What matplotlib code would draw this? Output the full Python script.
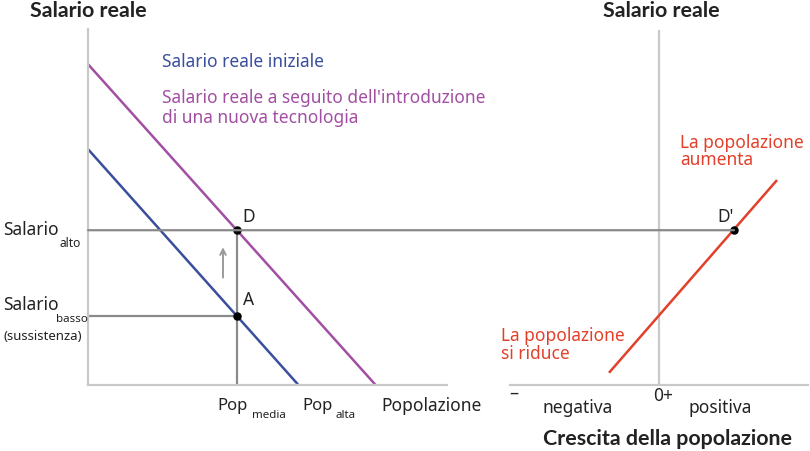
import matplotlib
matplotlib.use("Agg")
import matplotlib.pyplot as plt
from matplotlib.patches import ConnectionPatch

plt.rcParams['font.family'] = ['Noto Sans', 'DejaVu Sans']

# left panel: population (x) against real wage (y), arbitrary units
pop_lim = (0, 100)
wage_lim = (0, 100)
initial_pop = [0, 58.5]
initial_wage = [66.2, 0]
new_pop = [0, 80]
new_wage = [90.1, 0]
pop_media = 41.5
pop_alta = 65
wage_high = 43.4
wage_low = 19.4
arrow_pop = 37.6
arrow_wage = [29.3, 39.4]

# right panel: population growth against real wage
growth_lim = (-1.49, 1.49)
growth_pop = [-0.5, 1.18]
growth_wage = [3.3, 57.5]
growth_high = 0.75

BLUE = '#3a4f9c'
PURPLE = '#a24fa3'
RED = '#e2402a'
AXIS = '#c9c9c9'
LINE = '#8a8a8a'
TXT = '#222222'
BOLD = ['Lato', 'Roboto', 'DejaVu Sans']

W, H = 810, 452
fig = plt.figure(figsize=(W / 100, H / 100), dpi=100)


def px_box(x0, y0, x1, y1):
    return [x0 / W, 1 - y1 / H, (x1 - x0) / W, (y1 - y0) / H]


def ftext(x, y, s, **kw):
    kw.setdefault('color', TXT)
    kw.setdefault('fontsize', 12.5)
    kw.setdefault('va', 'center')
    fig.text(x / W, 1 - y / H, s, **kw)


ax = fig.add_axes(px_box(88, 30, 447, 385.5))
ax2 = fig.add_axes(px_box(510, 30, 808, 385.5))

for a in (ax, ax2):
    a.set_ylim(*wage_lim)
    a.set_xticks([])
    a.set_yticks([])
    a.patch.set_alpha(0)
    for s in a.spines.values():
        s.set_visible(False)
    a.spines['bottom'].set_visible(True)
    a.spines['bottom'].set_color(AXIS)
    a.spines['bottom'].set_linewidth(1.6)

ax.set_xlim(*pop_lim)
ax.spines['left'].set_visible(True)
ax.spines['left'].set_color(AXIS)
ax.spines['left'].set_linewidth(1.6)
ax2.set_xlim(*growth_lim)
ax2.plot([0, 0], [0, 99.4], color=AXIS, lw=1.6)

# left panel lines
ax.plot(initial_pop, initial_wage, color=BLUE, lw=1.8, solid_capstyle='butt')
ax.plot(new_pop, new_wage, color=PURPLE, lw=1.8, solid_capstyle='butt')
ax.plot([pop_media, pop_media], [0, wage_high], color=LINE, lw=1.6)
ax.plot([0, pop_media], [wage_low, wage_low], color=LINE, lw=1.6)
ax.annotate('', xy=(arrow_pop, arrow_wage[1]), xytext=(arrow_pop, arrow_wage[0]),
            arrowprops=dict(arrowstyle='->', color='#9a9a9a', lw=1.4))

# horizontal line linking D and D'
con = ConnectionPatch(xyA=(0, wage_high), coordsA=ax.transData,
                      xyB=(growth_high, wage_high), coordsB=ax2.transData,
                      color=LINE, lw=1.6)
fig.add_artist(con)

# right panel line
ax2.plot(growth_pop, growth_wage, color=RED, lw=1.8, solid_capstyle='butt')

# points
ax.scatter([pop_media, pop_media], [wage_high, wage_low], s=26, color='black',
           zorder=5, clip_on=False)
ax2.scatter([growth_high], [wage_high], s=26, color='black', zorder=5, clip_on=False)

ax.annotate('D', (pop_media, wage_high), xytext=(4, 10), textcoords='offset points',
            fontsize=12.5, color=TXT, ha='left', va='center')
ax.annotate('A', (pop_media, wage_low), xytext=(4, 12), textcoords='offset points',
            fontsize=12.5, color=TXT, ha='left', va='center')
ax2.annotate("D'", (growth_high, wage_high), xytext=(-12, 10), textcoords='offset points',
             fontsize=12.5, color=TXT, ha='left', va='center')

# Pop labels under the axis
for p, sub in ((pop_media, 'media'), (pop_alta, 'alta')):
    ax.annotate('Pop', (p, 0), xytext=(-3, -14.5), textcoords='offset points',
                fontsize=12, color=TXT, ha='center', va='center', annotation_clip=False)
    ax.annotate(sub, (p, 0), xytext=(10.5, -21.5), textcoords='offset points',
                fontsize=8.3, color=TXT, ha='left', va='center', annotation_clip=False)

# titles and axis labels
ftext(30, 11, 'Salario reale', fontweight='bold', fontsize=15.4, family=BOLD)
ftext(603, 11, 'Salario reale', fontweight='bold', fontsize=15.4, family=BOLD)
ftext(543, 439, 'Crescita della popolazione', fontweight='bold', fontsize=15.4, family=BOLD)
ftext(381, 406, 'Popolazione')
ftext(509, 394, '–', fontsize=13)
ftext(543, 408, 'negativa')
ftext(653, 396, '0+')
ftext(688, 408, 'positiva')

ftext(3, 230, 'Salario')
ftext(60, 244, 'alto', fontsize=8.6)
ftext(3, 305, 'Salario')
ftext(56, 320, 'basso', fontsize=8.3)
ftext(3, 336, '(sussistenza)', fontsize=9.5)

ftext(162, 62, 'Salario reale iniziale', color=BLUE)
ftext(162, 108, "Salario reale a seguito dell'introduzione\ndi una nuova tecnologia",
      color=PURPLE, linespacing=1.15)

ftext(680, 151.5, 'La popolazione\naumenta', color=RED, linespacing=0.98)
ftext(501, 345, 'La popolazione\nsi riduce', color=RED, linespacing=0.95)

fig.savefig('out.png', dpi=100)
